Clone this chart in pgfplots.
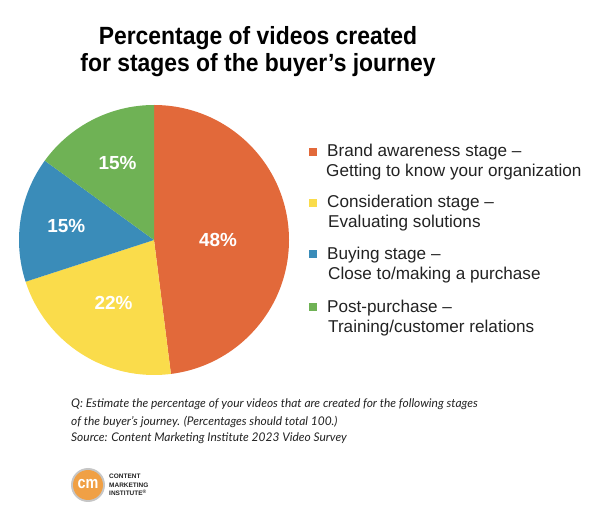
\documentclass[border=0pt]{standalone}
\usepackage{pgfplots}
\pgfplotsset{compat=1.18}
\usepackage{fontspec}
\setmainfont{Liberation Sans}
\newfontfamily\notefont{Lato}
\definecolor{cOrange}{HTML}{E2693A}
\definecolor{cYellow}{HTML}{FADC4B}
\definecolor{cBlue}{HTML}{3A8CB9}
\definecolor{cGreen}{HTML}{6FB255}
\definecolor{cLogo}{HTML}{F0A045}
\definecolor{cText}{HTML}{222222}
\begin{document}
\begin{tikzpicture}
\path[use as bounding box] (0,0) rectangle (600bp,525bp);
% Title
\node[anchor=base, text=black, font=\fontsize{25}{28}\selectfont\bfseries] at (258bp,480bp) {\scalebox{0.92}[1]{Percentage of videos created}};
\node[anchor=base, text=black, font=\fontsize{25}{28}\selectfont\bfseries] at (258bp,453bp) {\scalebox{0.92}[1]{for stages of the buyer’s journey}};
% Pie
\begin{axis}[at={(154bp,285bp)}, anchor=center, scale only axis,
  width=270bp, height=270bp, xmin=-1, xmax=1, ymin=-1, ymax=1, hide axis]
  % values: 48, 22, 15, 15 (percent), clockwise from 12 o'clock
  \fill[cOrange] (axis cs:0,0) -- (axis cs:0,1) arc[start angle=90, end angle={90-3.6*48}, radius=135bp] -- cycle;
  \fill[cYellow] (axis cs:0,0) -- (axis cs:{cos(90-3.6*48)},{sin(90-3.6*48)}) arc[start angle={90-3.6*48}, end angle={90-3.6*(48+22)}, radius=135bp] -- cycle;
  \fill[cBlue] (axis cs:0,0) -- (axis cs:{cos(90-3.6*70)},{sin(90-3.6*70)}) arc[start angle={90-3.6*70}, end angle={90-3.6*(70+15)}, radius=135bp] -- cycle;
  \fill[cGreen] (axis cs:0,0) -- (axis cs:{cos(90-3.6*85)},{sin(90-3.6*85)}) arc[start angle={90-3.6*85}, end angle={90-3.6*(85+15)}, radius=135bp] -- cycle;
  \node[text=white, font=\fontsize{19}{22}\selectfont\bfseries] at (axis cs:0.475,0.0) {48\%};
  \node[text=white, font=\fontsize{19}{22}\selectfont\bfseries] at (axis cs:-0.30,-0.47) {22\%};
  \node[text=white, font=\fontsize{19}{22}\selectfont\bfseries] at (axis cs:-0.65,0.10) {15\%};
  \node[text=white, font=\fontsize{19}{22}\selectfont\bfseries] at (axis cs:-0.27,0.57) {15\%};
\end{axis}
% Legend
\fill[cOrange] (309bp,369bp) rectangle (317bp,377bp);
\fill[cYellow] (309bp,318bp) rectangle (317bp,326bp);
\fill[cBlue] (309bp,267bp) rectangle (317bp,275bp);
\fill[cGreen] (309bp,214bp) rectangle (317bp,222bp);
\begin{scope}[every node/.style={anchor=base west, inner sep=0pt, text=cText, font=\fontsize{17.2}{20}\selectfont}]
\node at (327bp,368bp) {Brand awareness stage –};
\node at (326bp,348bp) {Getting to know your organization};
\node at (327bp,317bp) {Consideration stage –};
\node at (328bp,297bp) {Evaluating solutions};
\node at (327bp,265bp) {Buying stage –};
\node at (328bp,245bp) {Close to/making a purchase};
\node at (327bp,212bp) {Post-purchase –};
\node at (328bp,192bp) {Training/customer relations};
\end{scope}
% Footnote
\begin{scope}[every node/.style={anchor=base west, inner sep=0pt, text=cText, font=\notefont\itshape\fontsize{12}{15}\selectfont}]
\node at (71bp,117bp) {Q: Estimate the percentage of your videos that are created for the following stages};
\node at (71bp,99bp) {of the buyer’s journey. (Percentages should total 100.)};
\node at (71bp,83bp) {Source: Content Marketing Institute 2023 Video Survey};
\end{scope}
% Logo
\fill[gray!45] (88bp,40bp) circle (17bp);
\fill[cLogo] (88bp,40bp) circle (15bp);
\node[text=white, font=\fontsize{17}{17}\selectfont\bfseries] at (88bp,41bp) {\scalebox{0.85}[1]{cm}};
\begin{scope}[every node/.style={anchor=west, inner sep=0pt, text=cText, font=\fontsize{6.5}{7}\selectfont\bfseries}]
\node at (109bp,49bp) {CONTENT};
\node at (109bp,40bp) {MARKETING};
\node at (109bp,32bp) {INSTITUTE\textsuperscript{\tiny ®}};
\end{scope}
\end{tikzpicture}
\end{document}
